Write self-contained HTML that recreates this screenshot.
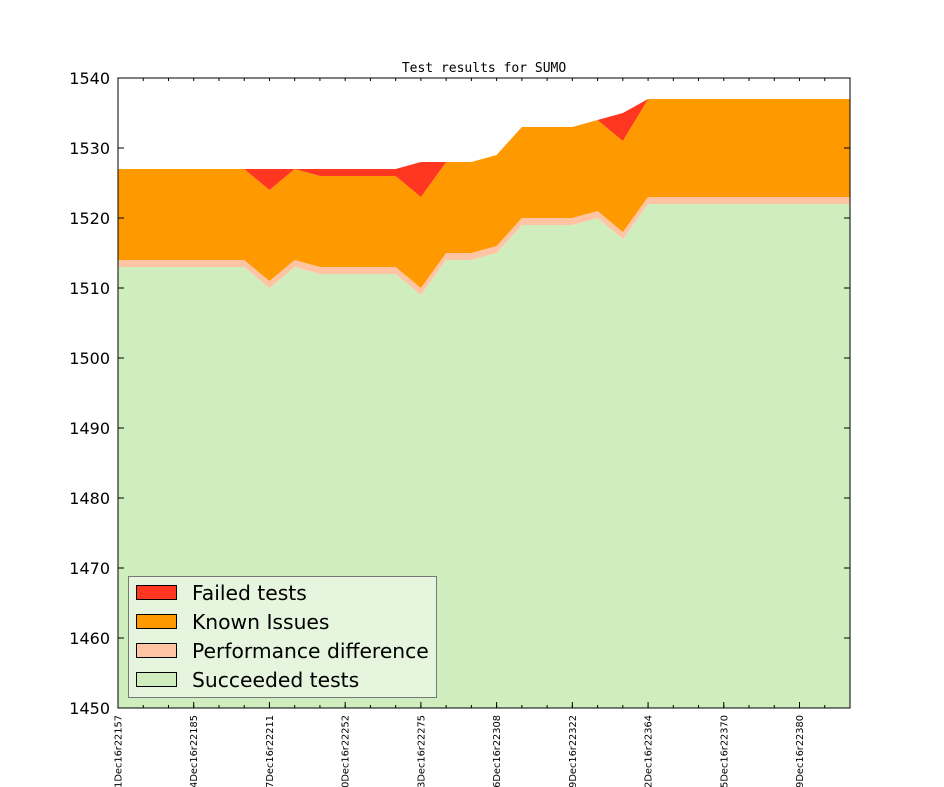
<!DOCTYPE html>
<html><head><meta charset="utf-8"><style>
html,body{margin:0;padding:0;background:#fff;}
svg{display:block;font-family:"DejaVu Sans","Liberation Sans",sans-serif;}
</style></head><body>
<svg id="chart" width="944" height="787" viewBox="0 0 944 787">
<text x="484" y="72" text-anchor="middle" font-family="DejaVu Sans Mono, Liberation Mono, monospace" font-size="13">Test results for SUMO</text>
<g id="areas"></g>
<g id="axes"></g>
<g id="legend"></g>
</svg>
<script>
const xLabels = ["01Dec16r22157","04Dec16r22185","07Dec16r22211","10Dec16r22252","13Dec16r22275","16Dec16r22308","19Dec16r22322","22Dec16r22364","25Dec16r22370","29Dec16r22380"];
const succeeded = [1513,1513,1513,1513,1513,1513,1510,1513,1512,1512,1512,1512,1509,1514,1514,1515,1519,1519,1519,1520,1517,1522,1522,1522,1522,1522,1522,1522,1522,1522];
const perfDiff = [1,1,1,1,1,1,1,1,1,1,1,1,1,1,1,1,1,1,1,1,1,1,1,1,1,1,1,1,1,1];
const knownIssues = [13,13,13,13,13,13,13,13,13,13,13,13,13,13,13,13,13,13,13,13,13,14,14,14,14,14,14,14,14,14];
const failed = [0,0,0,0,0,0,3,0,1,1,1,1,5,0,0,0,0,0,0,0,4,0,0,0,0,0,0,0,0,0];
const yTicks = [1450,1460,1470,1480,1490,1500,1510,1520,1530,1540];

const NS="http://www.w3.org/2000/svg";
const L=118,R=850,T=78,B=708,yMin=1450,yMax=1540;
const n=succeeded.length;
const xs=i=>L+(R-L)*i/(n-1);
const ys=v=>B-(v-yMin)/(yMax-yMin)*(B-T);
function mk(tag,attrs,parent){const e=document.createElementNS(NS,tag);for(const k in attrs)e.setAttribute(k,attrs[k]);parent.appendChild(e);return e;}
const areas=document.getElementById('areas'),axes=document.getElementById('axes'),legend=document.getElementById('legend');
const series=[["succeeded-area",succeeded,"#d0edbe"],["perf-diff-area",perfDiff,"#ffc4a4"],["known-issues-area",knownIssues,"#ff9900"],["failed-area",failed,"#ff3620"]];
let base=new Array(n).fill(yMin);
series.forEach(([name,vals,col],si)=>{
  const top=base.map((b,i)=>si===0?vals[i]:b+vals[i]);
  let d="M"+xs(0)+","+ys(base[0]);
  for(let i=0;i<n;i++)d+="L"+xs(i)+","+ys(top[i]);
  for(let i=n-1;i>=0;i--)d+="L"+xs(i)+","+ys(base[i]);
  const p=mk('path',{d:d+"Z",fill:col,stroke:"none"},areas);
  
  
  base=top;
});
const frame=mk('rect',{x:L,y:T,width:R-L,height:B-T,fill:"none",stroke:"#000","stroke-width":1},axes);


yTicks.forEach(v=>{
  const y=ys(v);
  mk('line',{x1:L,x2:L+6,y1:y,y2:y,stroke:"#000"},axes);
  mk('line',{x1:R,x2:R-6,y1:y,y2:y,stroke:"#000"},axes);
  const t=mk('text',{x:L-8,y:y+6,"text-anchor":"end","font-size":16},axes);
  t.textContent=v;
  
  
});
for(let i=0;i<n;i++){
  const x=xs(i);
  mk('line',{x1:x,x2:x,y1:B,y2:B-3,stroke:"#000"},axes);
  mk('line',{x1:x,x2:x,y1:T,y2:T+3,stroke:"#000"},axes);
}
xLabels.forEach((lab,k)=>{
  const x=xs(k*3);
  mk('line',{x1:x,x2:x,y1:B,y2:B-6,stroke:"#000"},axes);
  const t=mk('text',{x:0,y:0,"text-anchor":"end","font-size":9.8,transform:`translate(${x+3.5},715) rotate(-90)`},axes);
  t.textContent=lab;
  
  
});
const lb=mk('rect',{x:128.5,y:576.5,width:308,height:121,fill:"#e6f5de",stroke:"#777"},legend);


const entries=[["Failed tests","#ff3620"],["Known Issues","#ff9900"],["Performance difference","#ffc4a4"],["Succeeded tests","#d0edbe"]];
entries.forEach(([lab,col],i)=>{
  const y=585+i*29;
  const g=mk('g',{},legend);
  
  
  mk('rect',{x:136.5,y:y+0.5,width:40,height:14,fill:col,stroke:"#000"},g);
  const t=mk('text',{x:192,y:y+15,"font-size":20.3},g);
  t.textContent=lab;
});
</script>
</body></html>
